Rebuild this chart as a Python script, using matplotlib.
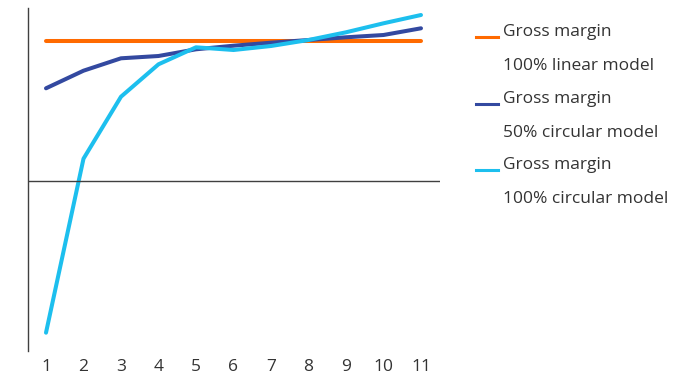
import matplotlib
matplotlib.use("Agg")
import matplotlib.pyplot as plt
from matplotlib.lines import Line2D

plt.rcParams['font.family'] = ['Open Sans', 'DejaVu Sans']

# --- données (unités arbitraires, 0 = axe horizontal) ---
years = [1, 2, 3, 4, 5, 6, 7, 8, 9, 10, 11]
linear_100 = [140] * 11
circular_50 = [92.7, 110.3, 122.7, 125, 131.7, 135.3, 138.3, 141, 143.7, 146, 152.7]
circular_100 = [-151.7, 22.3, 84.3, 116.7, 133.7, 131, 135, 141, 148.7, 157.7, 166]

series_labels = [
    "Gross margin\n100% linear model",
    "Gross margin\n50% circular model",
    "Gross margin\n100% circular model",
]
colors = ["#FF6A00", "#3349A0", "#1DBFEE"]
text_color = "#333333"

fig = plt.figure(figsize=(6.95, 3.74), dpi=100)
ax = fig.add_axes([28 / 695, 1 - 351 / 374, 412 / 695, 343 / 374])

for vals, col in zip([linear_100, circular_50, circular_100], colors):
    ax.plot(years, vals, color=col, lw=2.9, solid_capstyle="round", solid_joinstyle="round")

ax.axhline(0, color="#404040", lw=1.0)
ax.set_xlim(0.52, 11.507)
ax.set_ylim(-170, 173)

for s in ["top", "right", "bottom"]:
    ax.spines[s].set_visible(False)
ax.spines["left"].set_color("#404040")
ax.spines["left"].set_linewidth(1.0)

ax.set_xticks(years)
ax.set_xticklabels([str(y) for y in years])
ax.set_yticks([])
ax.tick_params(axis="x", length=0, pad=5.5, labelsize=12.5, labelcolor=text_color)

# --- légende manuelle ---
y_px = [32, 99, 165]
for lab, col, yp in zip(series_labels, colors, y_px):
    yf = 1 - (yp + 5) / 374
    fig.add_artist(Line2D([476 / 695, 498 / 695], [yf, yf], color=col, lw=2.2,
                          transform=fig.transFigure))
    l1, l2 = lab.split("\n")
    fig.text(503 / 695, 1 - yp / 374, l1, fontsize=12.5, color=text_color, va="center", ha="left")
    fig.text(503 / 695, 1 - (yp + 34) / 374, l2, fontsize=12.5, color=text_color, va="center", ha="left")

fig.savefig("out.png", dpi=100)
